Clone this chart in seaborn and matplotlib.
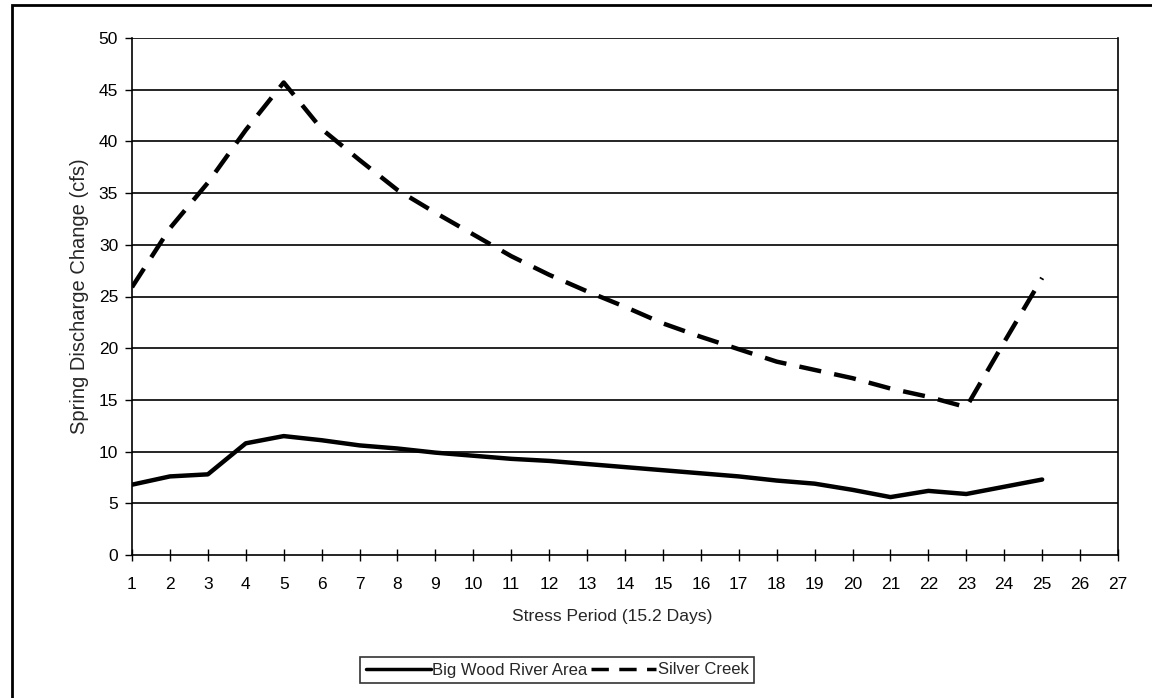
import matplotlib
matplotlib.use("Agg")
import matplotlib.pyplot as plt
import matplotlib.patches as mpatches
import numpy as np
import pandas as pd
import seaborn as sns

# ─── Data ────────────────────────────────────────────────────────────────────
stress_period = list(range(1, 26))
big_wood = [6.8, 7.6, 7.8, 10.8, 11.5, 11.1, 10.6, 10.3, 9.9, 9.6, 9.3, 9.1, 8.8,
            8.5, 8.2, 7.9, 7.6, 7.2, 6.9, 6.3, 5.6, 6.2, 5.9, 6.6, 7.3]
silver_creek = [25.9, 31.6, 36.0, 41.1, 45.7, 41.2, 38.2, 35.3, 33.1, 31.0, 28.9,
                27.1, 25.5, 24.0, 22.4, 21.1, 19.9, 18.7, 17.9, 17.1, 16.1, 15.3,
                14.3, 20.6, 26.8]
series_names = ["Big Wood River Area", "Silver Creek"]
x_ticks = list(range(1, 28))
y_ticks = list(range(0, 51, 5))

df = pd.DataFrame({
    "period": stress_period * 2,
    "value": big_wood + silver_creek,
    "series": [series_names[0]] * len(big_wood) + [series_names[1]] * len(silver_creek),
})

# ─── Plot ────────────────────────────────────────────────────────────────────
sns.set_theme(style="white")
plt.rcParams["font.family"] = ["Liberation Sans", "DejaVu Sans"]

fig = plt.figure(figsize=(11.52, 6.98), dpi=100)
ax = fig.add_axes([132 / 1152, 1 - 555 / 698, (1118 - 132) / 1152, (555 - 38) / 698])

for y in y_ticks[1:]:
    ax.axhline(y, color="black", lw=1.2, zorder=1)

sns.lineplot(
    data=df, x="period", y="value", hue="series", style="series",
    palette=["black", "black"],
    dashes={series_names[0]: "", series_names[1]: (5, 3)},
    linewidth=3.2, ax=ax, legend=True, zorder=3,
)

ax.set_xlim(1, 27)
ax.set_ylim(0, 50)
ax.set_xticks(x_ticks)
ax.set_yticks(y_ticks)
ax.tick_params(axis="x", direction="inout", length=8, width=1, labelsize=12.5,
               pad=12, colors="black", bottom=True)
ax.tick_params(axis="y", direction="out", length=5, width=1, labelsize=12.5,
               pad=5, colors="black", left=True)
for side in ["left", "bottom", "right"]:
    ax.spines[side].set_visible(True)
    ax.spines[side].set_color("black")
    ax.spines[side].set_linewidth(1.2)
ax.spines["top"].set_visible(False)

ax.set_xlabel("Stress Period (15.2 Days)", fontsize=12.6, labelpad=11)
ax.set_ylabel("Spring Discharge Change (cfs)", fontsize=14.5, labelpad=7)
ax.xaxis.set_label_coords(0.487, -0.105)

handles, labels = ax.get_legend_handles_labels()
ax.legend_.remove()
leg = fig.legend(
    handles, labels, loc="center", ncol=2,
    bbox_to_anchor=(557 / 1152, 1 - 670 / 698),
    frameon=True, fancybox=False, edgecolor="black", fontsize=12,
    handlelength=3.9, handletextpad=0.1, columnspacing=0.2, borderpad=0.35,
)
leg.get_frame().set_linewidth(1.2)
for h in leg.get_lines():
    h.set_linewidth(2.5)

# outer frame of the figure (top and left edges visible)
frame = mpatches.Rectangle((12 / 1152, -0.1), 1.2, 1 - 5 / 698 + 0.1,
                           transform=fig.transFigure, fill=False,
                           edgecolor="black", linewidth=2)
fig.patches.append(frame)

fig.savefig("out.png", dpi=100)
